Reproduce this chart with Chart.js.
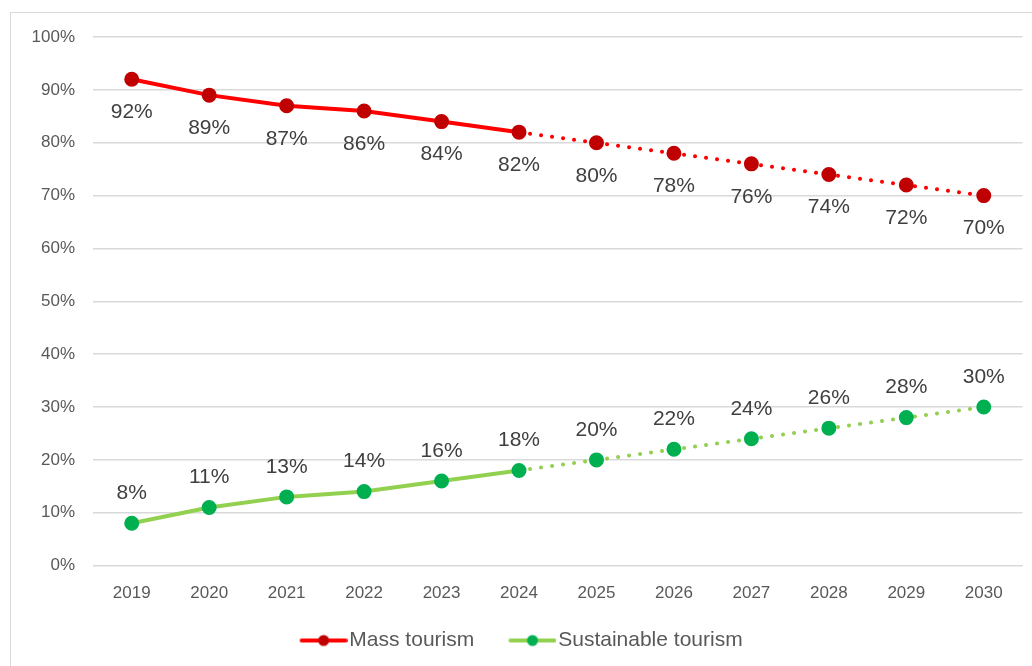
<!DOCTYPE html>
<html><head><meta charset="utf-8">
<script src="https://cdn.jsdelivr.net/npm/chart.js@4/dist/chart.umd.min.js"></script>
<style>
html,body{margin:0;padding:0;background:#fff;}
#wrap{position:absolute;left:0;top:0;width:1032px;height:666px;}
#frame{position:absolute;left:10px;top:12px;width:1030px;height:700px;border:1px solid #d9d9d9;box-sizing:border-box;}
canvas{position:absolute;left:0;top:0;}
</style></head>
<body><div id="wrap"><div id="frame"></div><canvas id="c" width="1032" height="666"></canvas></div>
<script>
const years = ['2019','2020','2021','2022','2023','2024','2025','2026','2027','2028','2029','2030'];
const massTourism = [92,89,87,86,84,82,80,78,76,74,72,70];
const sustainableTourism = [8,11,13,14,16,18,20,22,24,26,28,30];
const seriesNames = ['Mass tourism','Sustainable tourism'];
const forecastStart = 5;
const FONT = '"Liberation Sans", Arial, sans-serif';
const LEG_BOX = 57.5, LEG_IMG = 75;

function legendIcon(line, dot){
  const c=document.createElement('canvas'); c.width=LEG_IMG; c.height=14;
  const g=c.getContext('2d');
  const x0=LEG_IMG-48;
  g.strokeStyle=line; g.lineWidth=4; g.lineCap='round';
  g.beginPath(); g.moveTo(x0+2,7); g.lineTo(x0+46,7); g.stroke();
  g.fillStyle=dot; g.beginPath(); g.arc(x0+24,7,5.5,0,Math.PI*2); g.fill();
  return c;
}
const icons=[legendIcon('#FF0000','#C00000'), legendIcon('#92D050','#00B050')];

const labelPlugin={
  id:'vlabels',
  afterDatasetsDraw(chart){
    const ctx=chart.ctx;
    ctx.save();
    ctx.font='21px '+FONT;
    ctx.fillStyle='#404040';
    ctx.textAlign='center'; ctx.textBaseline='middle';
    chart.data.datasets.forEach((ds,i)=>{
      const meta=chart.getDatasetMeta(i);
      meta.data.forEach((pt,j)=>{
        const off = i===0 ? 33 : -30;
        ctx.fillText(ds.data[j]+'%', pt.x, pt.y+off);
      });
    });
    ctx.restore();
  }
};

const dashSeg = ctx => ctx.p0DataIndex >= forecastStart ? [0.1, 11] : undefined;

new Chart(document.getElementById('c'),{
  type:'line',
  data:{labels:years,datasets:[
    {label:seriesNames[0],data:massTourism,borderColor:'#FF0000',backgroundColor:'#C00000',
     pointBackgroundColor:'#C00000',pointBorderColor:'#C00000',pointRadius:5.5,borderWidth:4,
     borderCapStyle:'round',segment:{borderDash:dashSeg},pointStyle:'circle'},
    {label:seriesNames[1],data:sustainableTourism,borderColor:'#92D050',backgroundColor:'#00B050',
     pointBackgroundColor:'#00B050',pointBorderColor:'#00B050',pointRadius:5.5,borderWidth:4,
     borderCapStyle:'round',segment:{borderDash:dashSeg},pointStyle:'circle'}
  ]},
  options:{
    responsive:false,animation:false,
    layout:{padding:{left:0,right:8,top:37,bottom:5}},
    plugins:{
      tooltip:{enabled:false},
      legend:{position:'bottom',
        labels:{usePointStyle:true,pointStyleWidth:LEG_BOX,color:'#595959',padding:16,
          font:{size:21,family:FONT},
          generateLabels(chart){
            return chart.data.datasets.map((d,i)=>({text:d.label,pointStyle:icons[i],fontColor:'#595959',
              datasetIndex:i,hidden:false,lineWidth:0,strokeStyle:'transparent',fillStyle:'transparent'}));
          }}
      }
    },
    scales:{
      x:{offset:true,grid:{display:false},border:{color:'#d9d9d9'},
         ticks:{color:'#595959',padding:10,font:{size:17,family:FONT}}},
      y:{min:0,max:100,border:{display:false},grid:{color:'#d9d9d9',lineWidth:1.5,drawTicks:false},
         afterFit(s){s.width=93;},
         ticks:{stepSize:10,padding:18,color:'#595959',callback:v=>v+'%',
           font:{size:17,family:FONT}}}
    }
  },
  plugins:[labelPlugin]
});
</script></body></html>
